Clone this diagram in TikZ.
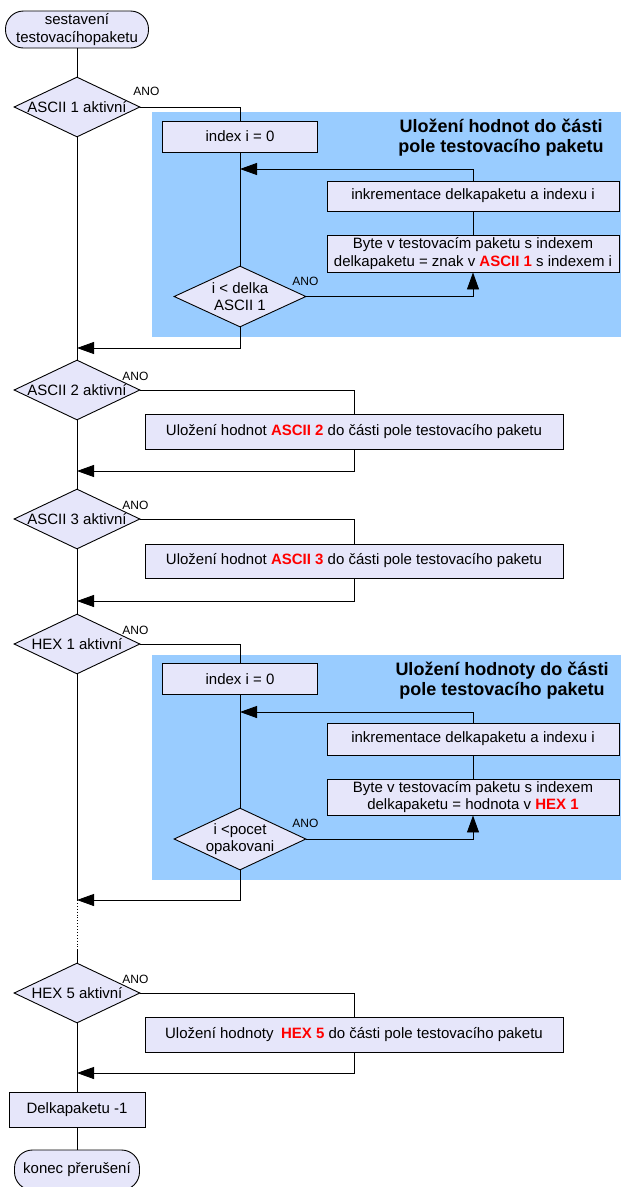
\documentclass[tikz,border=0pt]{standalone}
\usepackage{fontspec}
\setmainfont{Liberation Sans}
\usetikzlibrary{shapes.geometric,arrows.meta}

\definecolor{boxfill}{HTML}{E6E6FA}
\definecolor{areafill}{HTML}{99CCFF}
\newcommand{\redtxt}[1]{\textcolor{red}{\textbf{#1}}}

\begin{document}
\begin{tikzpicture}[x=1pt, y=-1pt, line width=0.9pt,
    every node/.style={font=\fontsize{15}{17.5}\selectfont, inner sep=0pt},
    term/.style={draw, fill=boxfill, rounded corners=18pt, minimum width=143pt, minimum height=37pt, align=center},
    proc/.style={draw, fill=boxfill, minimum height=35pt, align=center},
    decision/.style={draw, fill=boxfill, diamond, minimum width=126pt, minimum height=60pt},
    ano/.style={font=\fontsize{12}{14}\selectfont},
    title/.style={font=\fontsize{18}{20}\selectfont\bfseries, align=center},
    flow/.style={-{Triangle[length=17pt,width=12pt]}}]
    \useasboundingbox (0,0) rectangle (621,1187);

    % blue blocks with the inner loops
    \fill[areafill] (152,112) rectangle (621,337);
    \fill[areafill] (152,655) rectangle (621,880);

    % main column
    \node[term] (start) at (77,29.5) {sestavení\\testovacíhopaketu};
    \node[decision, label=center:ASCII 1 aktivní] (ascii1) at (77,107) {};
    \node[decision, label=center:ASCII 2 aktivní] (ascii2) at (77,390) {};
    \node[decision, label=center:ASCII 3 aktivní] (ascii3) at (77,519) {};
    \node[decision, label=center:HEX 1 aktivní] (hex1) at (77,644) {};
    \node[decision, label=center:HEX 5 aktivní] (hex5) at (77,993) {};
    \node[proc, minimum width=136pt] (delka) at (77,1109.5) {Delkapaketu -1};
    \node[term, minimum width=125pt, minimum height=40pt] (stop) at (77,1170) {konec přerušení};

    % ASCII 1 loop
    \node[title] (title1) at (501,138) {Uložení hodnot do části\\pole testovacího paketu};
    \node[proc, minimum width=155pt, minimum height=31pt] (idx1) at (240,136.5) {index i = 0};
    \node[proc, minimum width=292pt, minimum height=30pt] (inc1) at (473,196) {inkrementace delkapaketu a indexu i};
    \node[proc, minimum width=292pt, minimum height=37pt] (byte1) at (473,253.5)
        {Byte v testovacím paketu s indexem\\delkapaketu = znak v \redtxt{ASCII 1} s indexem i};
    \node[decision, minimum width=132pt, minimum height=61pt,
        label={[align=center]center:i < delka\\ASCII 1}] (cmp1) at (240,296.5) {};

    % ASCII 2, ASCII 3
    \node[proc, minimum width=418pt] (save2) at (354,431.5) {Uložení hodnot \redtxt{ASCII 2} do části pole testovacího paketu};
    \node[proc, minimum width=418pt, minimum height=34pt] (save3) at (354,561) {Uložení hodnot \redtxt{ASCII 3} do části pole testovacího paketu};

    % HEX 1 loop
    \node[title] (title2) at (502,681) {Uložení hodnoty do části\\pole testovacího paketu};
    \node[proc, minimum width=155pt, minimum height=31pt] (idx2) at (240,679) {index i = 0};
    \node[proc, minimum width=292pt, minimum height=32pt] (inc2) at (473,739) {inkrementace delkapaketu a indexu i};
    \node[proc, minimum width=292pt, minimum height=36pt] (byte2) at (473,797)
        {Byte v testovacím paketu s indexem\\delkapaketu = hodnota v \redtxt{HEX 1}};
    \node[decision, minimum width=132pt, minimum height=62pt,
        label={[align=center]center:i <pocet\\opakovani}] (cmp2) at (240,839) {};

    % HEX 5
    \node[proc, minimum width=418pt] (save5) at (354,1034.5) {Uložení hodnoty\enspace\redtxt{HEX 5} do části pole testovacího paketu};

    % joints on the lines
    \coordinate (j1) at (77,348);
    \coordinate (j2) at (77,471);
    \coordinate (j3) at (77,601);
    \coordinate (j4) at (77,900);
    \coordinate (j5) at (77,950);
    \coordinate (j6) at (77,1073);
    \coordinate (k1) at (240,169);
    \coordinate (k2) at (240,712);

    % ANO labels
    \node[ano] (ano1) at ([shift={(6pt,15.5pt)}]ascii1.east) {ANO};
    \node[ano] (ano2) at ([shift={(-5pt,14pt)}]ascii2.east) {ANO};
    \node[ano] (ano3) at ([shift={(-5pt,14pt)}]ascii3.east) {ANO};
    \node[ano] (ano4) at ([shift={(-5pt,14pt)}]hex1.east) {ANO};
    \node[ano] (ano5) at ([shift={(-5pt,14pt)}]hex5.east) {ANO};
    \node[ano] (ano6) at ([shift={(-1pt,15pt)}]cmp1.east) {ANO};
    \node[ano] (ano7) at ([shift={(-1pt,16pt)}]cmp2.east) {ANO};

    % main line
    \draw (start) -- (ascii1);
    \draw (ascii1) -- (ascii2);
    \draw (ascii2) -- (ascii3);
    \draw (ascii3) -- (hex1);
    \draw (hex1) -- (j4);
    \draw[dotted] (j4) -- (j5);
    \draw (j5) -- (hex5);
    \draw (hex5) -- (delka);
    \draw (delka) -- (stop);

    % ASCII 1 branch
    \draw (ascii1.east) -| (idx1.north);
    \draw (idx1) -- (cmp1);
    \draw (inc1) -- (byte1);
    \draw[flow] (inc1.north) |- (k1);
    \draw[flow] (cmp1.east) -| (byte1.south);
    \draw[flow] (cmp1.south) |- (j1);

    % ASCII 2 and 3 branches
    \draw (ascii2.east) -| (save2.north);
    \draw[flow] (save2.south) |- (j2);
    \draw (ascii3.east) -| (save3.north);
    \draw[flow] (save3.south) |- (j3);

    % HEX 1 branch
    \draw (hex1.east) -| (idx2.north);
    \draw (idx2) -- (cmp2);
    \draw (inc2) -- (byte2);
    \draw[flow] (inc2.north) |- (k2);
    \draw[flow] (cmp2.east) -| (byte2.south);
    \draw[flow] (cmp2.south) |- (j4);

    % HEX 5 branch
    \draw (hex5.east) -| (save5.north);
    \draw[flow] (save5.south) |- (j6);
\end{tikzpicture}
\end{document}
